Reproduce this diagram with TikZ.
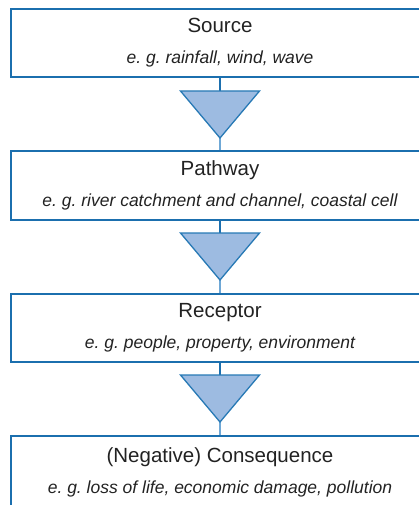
\documentclass[tikz,border=0pt]{standalone}
\usepackage{fontspec}
\setmainfont{Liberation Sans}
\usepackage{tikz}
\usetikzlibrary{arrows.meta}

\definecolor{boxblue}{HTML}{1B6FAE}
\definecolor{trifill}{HTML}{9DBBE1}
\definecolor{triline}{HTML}{2779B5}
\definecolor{linklight}{HTML}{6FA8D6}
\definecolor{textgray}{HTML}{222222}

\newcommand{\headfont}{\fontsize{20.5}{31}\selectfont\frenchspacing}
\newcommand{\egfont}{\fontsize{17.5}{31}\selectfont\itshape}

\begin{document}
\begin{tikzpicture}[x=1pt,y=1pt,
    stage/.style={draw=boxblue,line width=2pt,rectangle,minimum width=418pt,
                  inner sep=0pt,align=center,text=textgray,font=\headfont},
    tri/.style={fill=trifill,draw=triline,line width=1.3pt,line join=miter}]
\useasboundingbox (0,0) rectangle (418,-505);
\begin{scope}
    \node[stage,minimum height=68pt] (S) at (220,-43) {Source\\{\egfont e. g. rainfall, wind, wave}};
    \node[stage,minimum height=69pt] (P) at (220,-185.5) {Pathway\\{\egfont e. g. river catchment and channel, coastal cell}};
    \node[stage,minimum height=68pt] (R) at (220,-328) {Receptor\\{\egfont e. g. people, property, environment}};
    \node[stage,minimum height=72pt] (C) at (220,-472) {(Negative) Consequence\\{\egfont e. g. loss of life, economic damage, pollution}};

    \coordinate (T1) at (220,-91);
    \coordinate (A1) at (220,-138);
    \coordinate (T2) at (220,-233);
    \coordinate (A2) at (220,-280);
    \coordinate (T3) at (220,-375);
    \coordinate (A3) at (220,-422);
\end{scope}

\begin{scope}[every path/.style={line width=1.3pt}]
    \draw [boxblue] (S.south) -- (T1);
    \draw [boxblue] (P.south) -- (T2);
    \draw [boxblue] (R.south) -- (T3);

    \draw [linklight] (A1) -- (P.north);
    \draw [linklight] (A2) -- (R.north);
    \draw [linklight] (A3) -- (C.north);

    \draw [tri] ([xshift=-39.5pt]T1) -- ([xshift=39.5pt]T1) -- (A1) -- cycle;
    \draw [tri] ([xshift=-39.5pt]T2) -- ([xshift=39.5pt]T2) -- (A2) -- cycle;
    \draw [tri] ([xshift=-39.5pt]T3) -- ([xshift=39.5pt]T3) -- (A3) -- cycle;
\end{scope}
\end{tikzpicture}
\end{document}
